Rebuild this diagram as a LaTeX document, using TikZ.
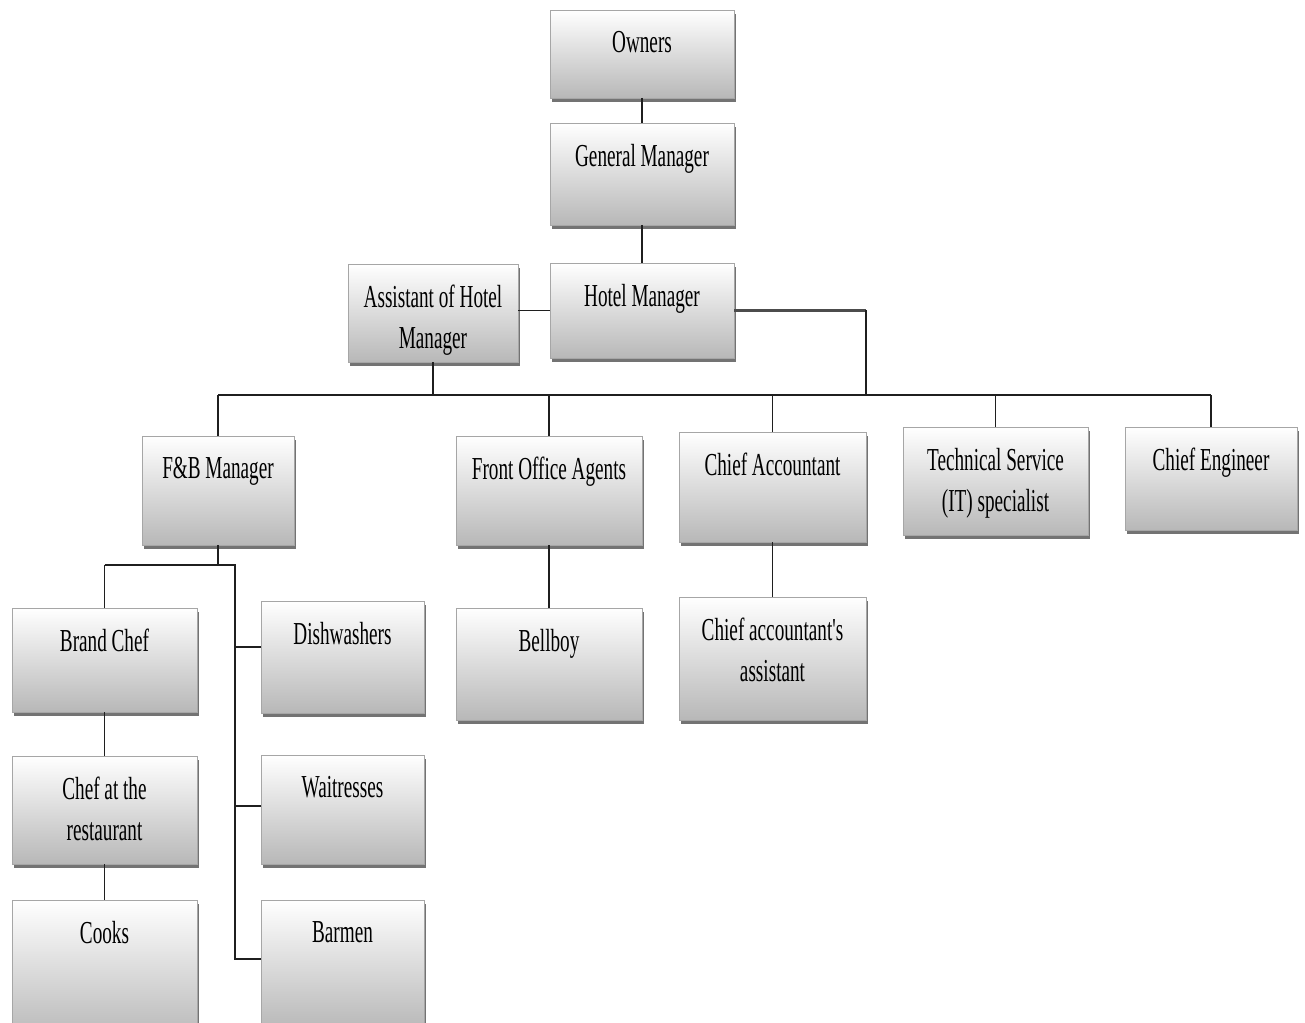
\documentclass[tikz,border=0pt]{standalone}
\usepackage{fontspec}
\newfontfamily\orgfont[FakeStretch=0.6]{Liberation Serif}
\usetikzlibrary{shadows}
\tikzset{
  box/.style={draw=black!35, line width=0.6pt, top color=white, bottom color=black!28,
    drop shadow={shadow xshift=1.2pt, shadow yshift=-3pt, fill=black!55, opacity=1},
    inner sep=0pt, outer sep=0pt},
  lbl/.style={font=\orgfont\fontsize{24}{30.75}\selectfont, align=center, anchor=north,
    inner sep=0pt, text=black},
  link/.style={draw=black!88, line width=1.2pt},
  heavylink/.style={draw=black!70, line width=2.4pt}
}
% name, left, top, right, bottom, text (pixel coordinates)
\newcommand\obox[6]{%
  \node[box, minimum width={(#4-#2)*0.75pt}, minimum height={(#5-#3)*0.75pt}]
    (#1) at ({(#2+#4)/2},{(#3+#5)/2}) {};
  \node[lbl] (#1t) at ({(#2+#4)/2},{#3+21}) {#6};}
\begin{document}
\begin{tikzpicture}[x=0.75pt,y=-0.75pt]
\useasboundingbox (0,0) rectangle (1305,1023);
\clip (0,0) rectangle (1305,1023);
\fill[white] (0,0) rectangle (1305,1023);

\obox{own}{550}{10}{734}{98}{Owners}
\obox{gm}{550}{123}{734}{225}{General Manager}
\obox{hm}{550}{263}{734}{358}{Hotel Manager}
\obox{ast}{348}{264}{518}{362}{Assistant of Hotel\\Manager}
\obox{fb}{142}{436}{294}{545}{F\&B Manager}
\obox{fo}{456}{436}{642}{545}{Front Office Agents}
\obox{ca}{679}{432}{866}{542}{Chief Accountant}
\obox{ts}{903}{427}{1088}{535}{Technical Service\\(IT) specialist}
\obox{ce}{1125}{427}{1297}{530}{Chief Engineer}
\obox{bc}{12}{608}{197}{712}{Brand Chef}
\obox{cr}{12}{756}{197}{864}{Chef at the\\restaurant}
\obox{ck}{12}{900}{197}{1040}{Cooks}
\obox{dw}{261}{601}{424}{713}{Dishwashers}
\obox{wt}{261}{755}{424}{864}{Waitresses}
\obox{bm}{261}{900}{424}{1030}{Barmen}
\obox{bb}{456}{608}{642}{720}{Bellboy}
\obox{caa}{679}{597}{866}{720}{Chief accountant's\\assistant}

% junction points
\coordinate (bus) at (0,395);
\coordinate (hmc) at (866,310);
\coordinate (fbj) at (0,565);
\coordinate (kt) at (235,565);
\coordinate (kb) at (235,959);

% top chain
\draw[link] (own.south) -- (gm.north);
\draw[link] (gm.south) -- (hm.north);
\draw[link] (ast.east |- hm.west) -- (hm.west);
\draw[heavylink] (hm.east) -- (hm.east -| hmc);
\draw[link] (hm.east -| hmc) -- (hmc |- bus);

% main bus
\draw[link] (fb.north |- bus) -- (ce.north |- bus);
\draw[link] (ast.south) -- (ast.south |- bus);
\foreach \n in {fb,fo,ca,ts,ce}{
  \draw[link] (\n.north |- bus) -- (\n.north);
}

% F&B branch
\draw[link] (fb.south) -- (fb.south |- fbj);
\draw[link] (bc.north |- fbj) -- (kt) -- (kb);
\draw[link] (bc.north |- fbj) -- (bc.north);
\draw[link] ([yshift=7.5pt]dw.west) -| (kt);
\draw[link] ([yshift=2.6pt]wt.west) -| (kt);
\draw[link] ([yshift=4.5pt]bm.west) -| (kt);
\draw[link] (bc.south) -- (cr.north);
\draw[link] (cr.south) -- (ck.north);

% other branches
\draw[link] (fo.south) -- (bb.north);
\draw[link] (ca.south) -- (caa.north);
\end{tikzpicture}
\end{document}
